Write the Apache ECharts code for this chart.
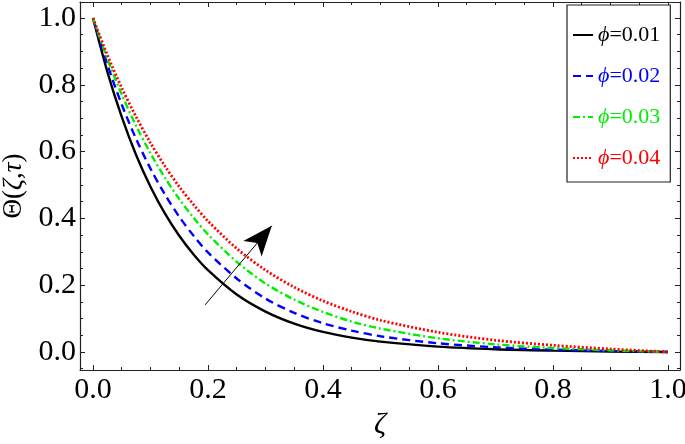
<!DOCTYPE html>
<html>
<head>
<meta charset="utf-8">
<script src="https://cdn.jsdelivr.net/npm/echarts@6/dist/echarts.min.js"></script>
<style>html,body{margin:0;padding:0;background:#fff;}#c{width:685px;height:444px;}</style>
</head>
<body>
<div id="c"></div>
<script>
var zeta = [0, 0.025, 0.05, 0.075, 0.1, 0.125, 0.15, 0.175, 0.2, 0.25, 0.3, 0.35, 0.4, 0.45, 0.5, 0.6, 0.7, 0.8, 0.9, 1.0];
var phi001 = [1.0, 0.839, 0.704, 0.590, 0.495, 0.415, 0.348, 0.292, 0.245, 0.172, 0.121, 0.085, 0.060, 0.043, 0.031, 0.016, 0.008, 0.004, 0.0015, 0];
var phi002 = [1.0, 0.861, 0.741, 0.638, 0.549, 0.472, 0.405, 0.348, 0.298, 0.220, 0.160, 0.117, 0.086, 0.064, 0.047, 0.026, 0.014, 0.007, 0.003, 0];
var phi003 = [1.0, 0.878, 0.771, 0.677, 0.595, 0.522, 0.458, 0.402, 0.352, 0.270, 0.205, 0.157, 0.120, 0.091, 0.070, 0.041, 0.023, 0.012, 0.005, 0];
var phi004 = [1.0, 0.889, 0.791, 0.704, 0.626, 0.557, 0.495, 0.441, 0.392, 0.310, 0.245, 0.194, 0.153, 0.121, 0.095, 0.059, 0.035, 0.020, 0.009, 0];
var seriesNames = ['\u03d5=0.01', '\u03d5=0.02', '\u03d5=0.03', '\u03d5=0.04'];
var seriesColors = ['#000000', '#0000ff', '#00ee00', '#ff0000'];
var arrowFrom = [0.195, 0.141];
var arrowTo = [0.311, 0.378];

function pairs(v) { return zeta.map(function (z, i) { return [z, v[i]]; }); }
var serif = 'Liberation Serif, DejaVu Serif, serif';
function fmt(v) {
  var r = Math.round(v / 0.2);
  return Math.abs(v / 0.2 - r) < 1e-6 ? (r * 0.2).toFixed(1) : '';
}
var axisCommon = {
  type: 'value',
  splitNumber: 5,
  axisLine: { show: true, onZero: false, lineStyle: { color: '#222', width: 1.2 } },
  axisTick: { show: true, inside: true, length: 5, lineStyle: { color: '#222', width: 1 } },
  minorTick: { show: true, splitNumber: 4, length: 3, lineStyle: { color: '#222', width: 1 } },
  splitLine: { show: false },
  minorSplitLine: { show: false }
};
function ax(extra) { return Object.assign({}, JSON.parse(JSON.stringify(axisCommon)), extra); }

var styles = [
  { type: 'solid', width: 2.4 },
  { type: [8, 5], width: 2.4 },
  { type: [7, 3, 2, 3], width: 2.4 },
  { type: [2, 2], width: 2.8 }
];
var dataSets = [phi001, phi002, phi003, phi004];

var series = dataSets.map(function (d, i) {
  var s = {
    name: seriesNames[i],
    type: 'line',
    data: pairs(d),
    smooth: 0.3,
    showSymbol: false,
    symbol: 'none',
    xAxisIndex: 0,
    yAxisIndex: 0,
    color: seriesColors[i],
    lineStyle: Object.assign({ color: seriesColors[i] }, styles[i]),
    emphasis: { disabled: true },
    z: 2 + i
  };
  if (i === 0) {
    s.markLine = {
      silent: true,
      animation: false,
      z: 10,
      label: { show: false },
      emphasis: { disabled: true },
      lineStyle: { color: '#000', type: 'solid', width: 1 },
      data: [[
        { coord: arrowFrom, symbol: 'none' },
        { coord: arrowTo, symbol: 'arrow', symbolSize: [18, 30] }
      ]]
    };
  }
  return s;
});

var chart = echarts.init(document.getElementById('c'), null, { renderer: 'canvas' });
chart.setOption({
  animation: false,
  backgroundColor: '#fff',
  grid: { left: 80, top: 2, right: 5, bottom: 74, containLabel: false, outerBoundsMode: 'none' },
  xAxis: [
    ax({
      min: -0.0226, max: 1.021, position: 'bottom',
      axisLabel: { show: true, formatter: fmt, fontFamily: serif, fontSize: 30, color: '#000', margin: 5 },
      name: '\u03b6', nameLocation: 'middle', nameGap: 38,
      nameTextStyle: { fontFamily: serif, fontSize: 30, fontStyle: 'italic', color: '#000' }
    }),
    ax({ min: -0.0226, max: 1.021, position: 'top', axisLabel: { show: false } })
  ],
  yAxis: [
    ax({
      min: -0.054, max: 1.048, position: 'left',
      axisLabel: { show: true, formatter: fmt, fontFamily: serif, fontSize: 30, color: '#000', margin: 4 },
      name: '{u|\u0398}({i|\u03b6},{i|\u03c4})', nameLocation: 'middle', nameGap: 52, nameRotate: 90,
      nameTextStyle: { fontFamily: serif, fontSize: 27, color: '#000',
        rich: { u: { fontFamily: serif, fontSize: 27 }, i: { fontFamily: serif, fontSize: 27, fontStyle: 'italic' } } }
    }),
    ax({ min: -0.054, max: 1.048, position: 'right', axisLabel: { show: false } })
  ],
  legend: {
    show: true,
    orient: 'vertical',
    left: 567, top: 5,
    padding: [19, 10, 13, 5],
    itemWidth: 20, itemHeight: 14, itemGap: 19,
    borderColor: '#222', borderWidth: 1.2, borderRadius: 0,
    backgroundColor: '#fff',
    selectedMode: false,
    itemStyle: { color: 'rgba(0,0,0,0)', borderWidth: 0, opacity: 0 },
    data: seriesNames.map(function (n, i) { return { name: n, textStyle: { color: seriesColors[i] } }; }),
    formatter: function (name) { return '{i|\u03d5}' + name.slice(1); },
    textStyle: { fontFamily: serif, fontSize: 22,
      rich: { i: { fontFamily: serif, fontSize: 22, fontStyle: 'italic' } } }
  },
  series: series
});
</script>
</body>
</html>
